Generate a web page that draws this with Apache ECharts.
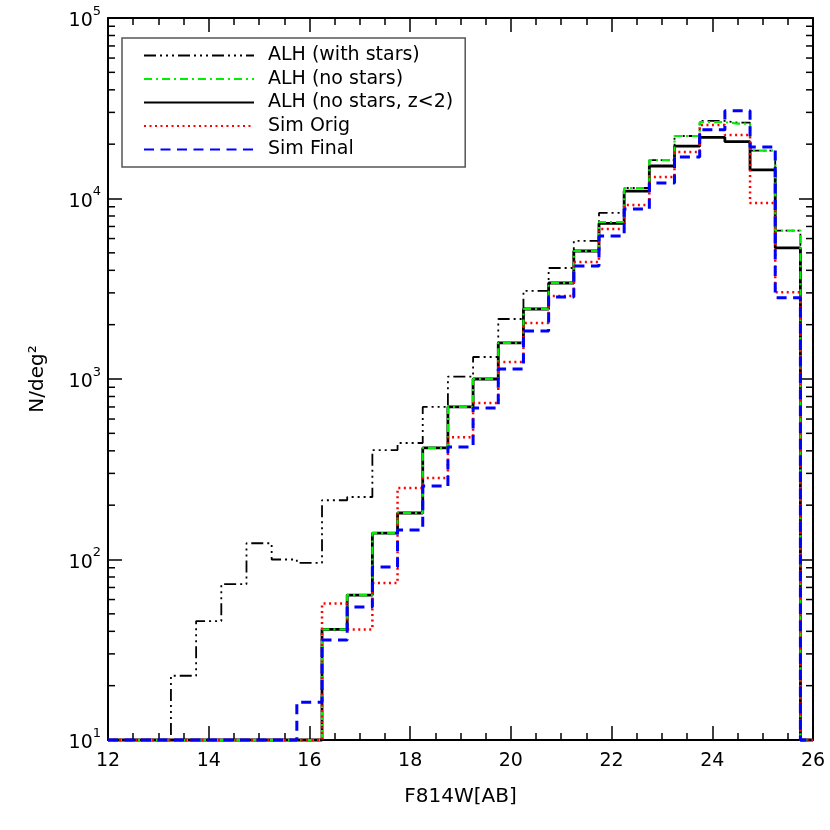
<!DOCTYPE html>
<html><head><meta charset="utf-8">
<script src="https://cdn.jsdelivr.net/npm/echarts@6/dist/echarts.min.js"></script>
<style>html,body{margin:0;padding:0;background:#fff}#c{width:830px;height:830px}</style>
</head><body><div id="c"></div>
<script>
// bin centres (F814W, 0.5 mag bins); last point closes the histogram
const magBins = [12,12.5,13,13.5,14,14.5,15,15.5,16,16.5,17,17.5,18,18.5,19,19.5,20,20.5,21,21.5,22,22.5,23,23.5,24,24.5,25,25.5,26];
const alhWithStars = [10,10,10,22.7,45.6,73,123,100,95.7,213,222,404,442,700,1030,1324,2150,3075,4120,5820,8320,11430,16330,22190,26900,26300,18400,6640,10];
const alhNoStars   = [10,10,10,10,10,10,10,10,10,41,63.5,140,181,415,700,1000,1585,2443,3404,5120,7410,11430,16330,22190,26500,26000,18400,6640,10];
const alhNoStarsZ2 = [10,10,10,10,10,10,10,10,10,41,63.5,140,181,415,700,1000,1585,2443,3404,5120,7280,11000,15140,19500,21830,20640,14390,5330,10];
const simOrig      = [10,10,10,10,10,10,10,10,10,57,41,74,249,283,476,736,1242,2043,2884,4446,6780,9200,13150,18100,25500,22480,9440,3020,10];
const simFinal     = [10,10,10,10,10,10,10,10,16.2,35.8,54.6,90.8,145.6,255,420,690,1135,1845,2845,4230,6190,8750,12200,17000,24000,30660,19280,2820,10];
const seriesNames = ['ALH (with stars)','ALH (no stars)','ALH (no stars, z<2)','Sim Orig','Sim Final'];
const yMinorTicks = [20,30,40,50,60,70,80,90,200,300,400,500,600,700,800,900,2000,3000,4000,5000,6000,7000,8000,9000,20000,30000,40000,50000,60000,70000,80000,90000];

const FONT = 'DejaVu Sans';
const chart = echarts.init(document.getElementById('c'), null, {renderer:'canvas'});

function hist(name, vals, color, width, type, z) {
  return {
    type:'line', name: name, data: magBins.map((x,i)=>[x, vals[i]]),
    step:'middle', symbol:'none', clip:false, z: z, animation:false,
    lineStyle:{color: color, width: width, type: type, cap:'butt'},
    itemStyle:{color: color}
  };
}

const axisLineStyle = {color:'#000', width:2};
const tickStyle = {color:'#000', width:1.5};

chart.setOption({
  animation:false,
  backgroundColor:'#fff',
  grid:{left:108, right:17, top:18, bottom:90, containLabel:false},
  legend:{
    data: seriesNames, left:122, top:38, orient:'vertical',
    itemWidth:110, itemHeight:14, itemGap:4.5,
    padding:[8,12,8,21], borderColor:'#555', borderWidth:1.5,
    selectedMode:false,
    itemStyle:{opacity:0, borderWidth:0},
    textStyle:{fontFamily:FONT, fontSize:19, color:'#000', lineHeight:18, padding:[0,0,0,9]}
  },
  xAxis:[{
    type:'value', min:12, max:26, interval:2, position:'bottom',
    axisLine:{show:true, onZero:false, lineStyle:axisLineStyle},
    axisTick:{show:true, inside:true, length:14, lineStyle:tickStyle},
    minorTick:{show:true, splitNumber:4, length:7, lineStyle:tickStyle},
    splitLine:{show:false},
    axisLabel:{margin:12, fontFamily:FONT, fontSize:19, color:'#000'},
    name:'F814W[AB]', nameLocation:'middle', nameGap:47,
    nameTextStyle:{fontFamily:FONT, fontSize:20, color:'#000'}
  },{
    type:'value', min:12, max:26, interval:2, position:'top',
    axisLine:{show:true, onZero:false, lineStyle:axisLineStyle},
    axisTick:{show:true, inside:true, length:14, lineStyle:tickStyle},
    minorTick:{show:true, splitNumber:4, length:7, lineStyle:tickStyle},
    splitLine:{show:false}, axisLabel:{show:false}
  }],
  yAxis:[{
    type:'log', logBase:10, min:10, max:100000, position:'left',
    axisLine:{show:true, onZero:false, lineStyle:axisLineStyle},
    axisTick:{show:true, inside:true, length:14, lineStyle:tickStyle},
    splitLine:{show:false},
    axisLabel:{
      margin:7,
      formatter: v => '{b|10}{s|' + Math.round(Math.log10(v)) + '}',
      rich:{
        b:{fontFamily:FONT, fontSize:19, color:'#000', lineHeight:26, verticalAlign:'bottom'},
        s:{fontFamily:FONT, fontSize:13, color:'#000', lineHeight:26, verticalAlign:'top'}
      }
    },
    name:'N/deg²', nameLocation:'middle', nameGap:60, nameRotate:90,
    nameTextStyle:{fontFamily:FONT, fontSize:20, color:'#000'}
  },{
    type:'log', logBase:10, min:10, max:100000, position:'right',
    axisLine:{show:true, onZero:false, lineStyle:axisLineStyle},
    axisTick:{show:true, inside:true, length:14, lineStyle:tickStyle},
    splitLine:{show:false}, axisLabel:{show:false}
  }],
  series:[
    hist(seriesNames[0], alhWithStars, '#000000', 1.8, [12,4,2,4,2,4,2,4], 3),
    hist(seriesNames[2], alhNoStarsZ2, '#000000', 2.8, 'solid', 4),
    hist(seriesNames[1], alhNoStars, '#00ee00', 2.2, [8,4,2,4], 5),
    hist(seriesNames[3], simOrig, '#ff0000', 2.5, [2,3.5], 6),
    hist(seriesNames[4], simFinal, '#0000ff', 3, [10,6.5], 7),
    {
      type:'custom', name:'yminor', xAxisIndex:0, yAxisIndex:0, silent:true, clip:false, z:1,
      data: yMinorTicks.map(v => [12, v]),
      renderItem: (params, api) => {
        const v = api.value(1);
        const pl = api.coord([12, v]);
        const pr = api.coord([26, v]);
        return {type:'group', children:[
          {type:'line', shape:{x1:pl[0], y1:pl[1], x2:pl[0]+7, y2:pl[1]}, style:{stroke:'#000', lineWidth:1.5}},
          {type:'line', shape:{x1:pr[0]-7, y1:pr[1], x2:pr[0], y2:pr[1]}, style:{stroke:'#000', lineWidth:1.5}}
        ]};
      }
    }
  ]
});
</script>
</body></html>
